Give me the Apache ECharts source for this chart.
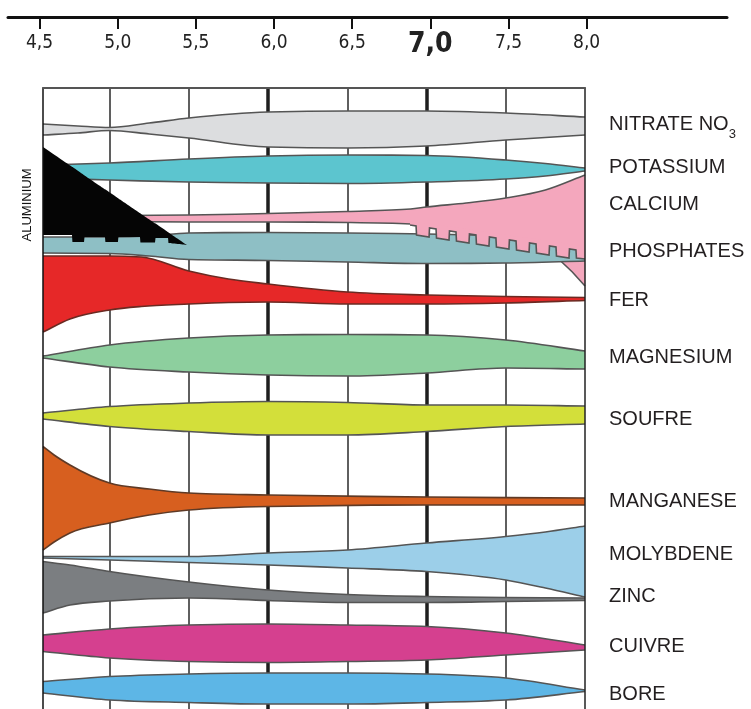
<!DOCTYPE html>
<html><head><meta charset="utf-8">
<script src="https://cdn.jsdelivr.net/npm/echarts@6/dist/echarts.min.js"></script>
<style>html,body{margin:0;padding:0;background:#fff}#c{width:751px;height:709px}</style>
</head><body><div id="c"></div>
<script>
// ---- pH scale ----
const PH_TICKS = [4.5, 5.0, 5.5, 6.0, 6.5, 7.0, 7.5, 8.0];
const PH_LABELS = ['4,5', '5,0', '5,5', '6,0', '6,5', '7,0', '7,5', '8,0'];
const PH_NEUTRAL = 7.0;
const GRID_THIN = [5.0, 5.5, 6.5, 7.5];
const GRID_BOLD = [6.0, 7.0];

// ---- nutrient names and their row position on the availability scale (0 = top) ----
const NUTRIENTS = ['NITRATE NO3', 'POTASSIUM', 'CALCIUM', 'PHOSPHATES', 'FER', 'MAGNESIUM',
  'SOUFRE', 'MANGANESE', 'MOLYBDENE', 'ZINC', 'CUIVRE', 'BORE'];
const NUTRIENT_POS = [36, 79.5, 116.5, 163.7, 212, 269.5, 331, 413, 466, 508, 558, 606];
const ALUMINIUM_NAME = 'ALUMINIUM';
const ALUMINIUM_POS = [117];

// ---- bands: [pH, upper edge, lower edge] ----
const NITRATE = [[4.58,36,47],[4.8,38,45],[5.0,39.5,42.5],[5.25,35,46],[5.5,30,50],[6.0,24,59],[6.5,23,60],[7.0,23,58],[7.5,25,52],[8.0,29,47]];
const POTASSIUM = [[4.58,77,90],[5.0,75,92],[5.5,71,94],[6.0,68,95],[6.5,67,95.5],[7.0,67.5,94],[7.5,72,91],[7.75,75.5,88],[8.0,80,83]];
const CALCIUM = [[4.58,128,133],[5.5,127,134],[6.0,125.5,134],[6.5,123.5,134.5],[6.9,121,136],[7.0,119,139],[7.25,115,145],[7.5,110,151],[7.75,102,157],[8.0,87,162]];
const CALCIUM_TEETH = [[6.896,133,137],[6.934,134,138],[6.937,134,147],[7.016,136,149],[7.019,136,140],[7.060,137,141],[7.063,137,150],[7.142,138.5,152],[7.145,138.5,143],[7.186,139.5,144],[7.189,139.5,153],[7.268,141.5,155],[7.271,141.5,146],[7.312,142.5,147],[7.315,142.5,156],[7.394,144.5,158],[7.397,144.5,149],[7.438,145.5,150],[7.441,145.5,159],[7.520,147.5,161],[7.523,147.5,152],[7.565,148.5,153],[7.568,148.5,162],[7.647,150,164],[7.650,150,155],[7.691,151,156],[7.694,151,165],[7.773,153,167],[7.776,153,158],[7.817,154,159],[7.820,154,168],[7.899,156,170],[7.902,156,161],[7.943,157,162],[7.946,157,170],[8.0,158,171]];
const CALCIUM_LOW = [[7.84,170,172],[7.92,170,184],[8.0,170,198]];
const PHOSPHATES = [[4.58,149,165],[5.0,149,165.5],[5.25,148,168],[5.5,145,171.5],[6.0,144.5,172.5],[6.5,145,174],[7.0,146,175.5],[7.5,148,175],[8.0,152,173]];
const ALUMINIUM = [[4.58,59,147],[4.763,78.7,147],[4.766,79,154],[4.839,87,154],[4.842,87.4,149],[4.971,101.2,149],[4.974,101.5,154],[5.053,110,154],[5.056,110.4,149],[5.192,125,149],[5.195,125.4,154.5],[5.287,135.3,154.5],[5.290,135.6,150],[5.369,144.1,150],[5.372,144.4,155],[5.489,157,157]];
const FER = [[4.58,168,244],[4.75,168,231],[5.0,168,222],[5.2,169,218.5],[5.5,183,216],[5.75,191,214.5],[6.0,196,214],[6.5,204,216],[7.0,207,216],[7.5,208.5,215],[8.0,209.5,212.5]];
const MAGNESIUM = [[4.58,268,270],[5.0,257,279],[5.5,250,284],[6.0,247,287],[6.5,246.5,288],[7.0,247,285],[7.5,252,280],[8.0,263,281]];
const SOUFRE = [[4.58,325,331],[5.0,318.5,338.5],[5.5,315,343.5],[6.0,313.5,347],[6.5,314.5,347],[7.0,317,343.5],[7.5,317,338.5],[8.0,318,336]];
const MANGANESE = [[4.58,358.5,462],[4.65,367,454],[4.75,377,445],[5.0,395,435],[5.25,401,427],[5.5,405,422],[6.0,407,418.5],[7.0,409,417],[8.0,410,417]];
const MOLYBDENE = [[4.58,468.5,470],[5.0,468.5,472],[5.5,468.5,474.5],[6.0,465,477],[6.5,462,480],[7.0,455,483.5],[7.5,448.5,492],[7.75,444,500],[8.0,438,509]];
const ZINC = [[4.58,473.5,525],[4.75,477,517],[5.0,483.5,513],[5.5,494,510],[6.0,502,512.5],[6.5,506.5,514.5],[7.0,508.5,514.5],[7.5,509.5,513.5],[8.0,510,512.5]];
const CUIVRE = [[4.58,547,563.5],[5.0,541,570],[5.5,537,573.5],[6.0,536,574.5],[6.5,537,573.5],[7.0,538.5,572],[7.5,545,567],[8.0,557,562]];
const BORE = [[4.58,593.5,605],[5.0,588.5,612],[5.5,586,614.5],[6.0,585,616],[6.5,585,616],[7.0,586,614.5],[7.5,590,612],[8.0,602,603.5]];

// ---- drawing helpers ----
function monoSegs(p) {
  const n = p.length, h = [], s = [], m = [];
  for (let i = 0; i < n - 1; i++) { h[i] = p[i + 1][0] - p[i][0]; s[i] = (p[i + 1][1] - p[i][1]) / h[i]; }
  m[0] = s[0]; m[n - 1] = s[n - 2];
  for (let i = 1; i < n - 1; i++) {
    if (s[i - 1] * s[i] <= 0) m[i] = 0;
    else {
      const q = (s[i - 1] * h[i] + s[i] * h[i - 1]) / (h[i - 1] + h[i]);
      m[i] = (Math.sign(s[i - 1]) + Math.sign(s[i])) * Math.min(Math.abs(s[i - 1]), Math.abs(s[i]), 0.5 * Math.abs(q));
    }
  }
  const segs = [];
  for (let i = 0; i < n - 1; i++) {
    const d = h[i] / 3;
    segs.push([p[i], [p[i][0] + d, p[i][1] + m[i] * d], [p[i + 1][0] - d, p[i + 1][1] - m[i + 1] * d], p[i + 1]]);
  }
  return segs;
}
function linSegs(p) {
  const segs = [];
  for (let i = 0; i < p.length - 1; i++) segs.push([p[i], p[i], p[i + 1], p[i + 1]]);
  return segs;
}
function pt(p) { return p[0].toFixed(2) + ',' + p[1].toFixed(2); }
function fwd(segs) { let d = ''; segs.forEach(s => { d += 'C' + pt(s[1]) + ' ' + pt(s[2]) + ' ' + pt(s[3]); }); return d; }
function rev(segs) { let d = ''; for (let i = segs.length - 1; i >= 0; i--) { const s = segs[i]; d += 'C' + pt(s[2]) + ' ' + pt(s[1]) + ' ' + pt(s[0]); } return d; }

function band(name, rows, fill, opt) {
  opt = opt || {};
  const stroke = opt.stroke || '#555555';
  return {
    type: 'custom', name: name, data: rows, encode: { x: 0, y: [1, 2] },
    xAxisIndex: 0, yAxisIndex: 0, silent: true, animation: false,
    renderItem: function (params, api) {
      if (params.dataIndex !== 0) return null;
      const top = rows.map(r => api.coord([r[0], r[1]]));
      const bot = rows.map(r => api.coord([r[0], r[2]]));
      const mk = opt.linear ? linSegs : monoSegs;
      const sT = mk(top), sB = mk(bot);
      const children = [{
        type: 'path',
        shape: { pathData: 'M' + pt(top[0]) + fwd(sT) + 'L' + pt(bot[bot.length - 1]) + rev(sB) + 'Z' },
        style: { fill: fill, stroke: null }
      }];
      if (opt.noTop !== true && opt.noStroke !== true) children.push({ type: 'path', shape: { pathData: 'M' + pt(top[0]) + fwd(sT) }, style: { fill: null, stroke: stroke, lineWidth: 1.6 } });
      if (opt.noStroke !== true) children.push({ type: 'path', shape: { pathData: 'M' + pt(bot[0]) + fwd(sB) }, style: { fill: null, stroke: stroke, lineWidth: 1.6 } });
      return { type: 'group', children: children };
    }
  };
}

const FONT = "'Liberation Sans', Arial, sans-serif";
const NARROW = "'Liberation Sans Narrow', 'Arial Narrow', 'DejaVu Sans Condensed', sans-serif";
function nearest(arr, v) { let i = 0, b = Infinity; arr.forEach((p, k) => { const d = Math.abs(p - v); if (d < b) { b = d; i = k; } }); return i; }

const chart = echarts.init(document.getElementById('c'), null, { renderer: 'canvas' });
chart.setOption({
  animation: false,
  backgroundColor: '#ffffff',
  textStyle: { fontFamily: FONT },
  grid: [
    { left: 43, right: 166, top: 88, bottom: 0 },
    { left: 8, right: 24, top: 16, height: 1 }
  ],
  xAxis: [
    { gridIndex: 0, type: 'value', position: 'top', min: 4.58, max: 8.0, z: 10,
      axisLine: { show: true, lineStyle: { color: '#555555', width: 2 } },
      axisTick: { show: false }, axisLabel: { show: false }, splitLine: { show: false } },
    { gridIndex: 0, type: 'value', position: 'bottom', min: 4.58, max: 8.0, z: 0,
      axisLine: { show: false }, axisTick: { show: false, customValues: GRID_THIN }, axisLabel: { show: false },
      splitLine: { show: true, lineStyle: { color: '#5f5f5f', width: 2 } } },
    { gridIndex: 0, type: 'value', position: 'bottom', min: 4.58, max: 8.0, z: 0,
      axisLine: { show: false }, axisTick: { show: false, customValues: GRID_BOLD }, axisLabel: { show: false },
      splitLine: { show: true, lineStyle: { color: '#1e1e1e', width: 3.5 } } },
    { gridIndex: 1, type: 'value', position: 'bottom', min: 4.298, max: 8.898,
      axisLine: { show: true, lineStyle: { color: '#111111', width: 3 } },
      axisTick: { show: true, customValues: PH_TICKS, length: 12, lineStyle: { color: '#111111', width: 2 } },
      splitLine: { show: false },
      axisLabel: {
        show: true, customValues: PH_TICKS, margin: 17, color: '#222222',
        formatter: function (v) {
          const i = nearest(PH_TICKS, v);
          return (PH_TICKS[i] === PH_NEUTRAL ? '{b|' : '{n|') + PH_LABELS[i] + '}';
        },
        rich: {
          n: { fontFamily: NARROW, fontSize: 19, lineHeight: 19, color: '#222222' },
          b: { fontFamily: NARROW, fontSize: 28, lineHeight: 22, fontWeight: 'bold', color: '#222222' }
        }
      } }
  ],
  yAxis: [
    { gridIndex: 0, type: 'value', inverse: true, min: 0, max: 621, position: 'left', z: 10,
      axisLine: { show: true, lineStyle: { color: '#111111', width: 1.5 } },
      axisTick: { show: false }, splitLine: { show: false },
      axisLabel: { show: true, customValues: ALUMINIUM_POS, formatter: function () { return ALUMINIUM_NAME; },
        rotate: 90, margin: 9, fontSize: 13, color: '#111111', fontFamily: FONT } },
    { gridIndex: 0, type: 'value', inverse: true, min: 0, max: 621, position: 'right', z: 10,
      axisLine: { show: true, lineStyle: { color: '#222222', width: 1.5 } },
      axisTick: { show: false }, splitLine: { show: false },
      axisLabel: {
        show: true, customValues: NUTRIENT_POS, margin: 24,
        formatter: function (v) {
          const name = NUTRIENTS[nearest(NUTRIENT_POS, v)];
          const m = name.match(/^(.*NO)(\d)$/);
          return m ? '{n|' + m[1] + '}{s|' + m[2] + '}' : '{n|' + name + '}';
        },
        rich: {
          n: { fontFamily: FONT, fontSize: 20, lineHeight: 20, color: '#231f20' },
          s: { fontFamily: FONT, fontSize: 13, lineHeight: 13, padding: [20, 0, 0, 0], color: '#231f20' }
        }
      } },
    { gridIndex: 1, type: 'value', min: 0, max: 1, show: false }
  ],
  series: [
    band('NITRATE NO3', NITRATE, '#dcdddf'),
    band('POTASSIUM', POTASSIUM, '#5cc5cf'),
    band('CALCIUM', CALCIUM_LOW, '#f4a7bd', { linear: true, noTop: true }),
    band('PHOSPHATES', PHOSPHATES, '#8ebfc5'),
    band('CALCIUM', CALCIUM, '#f4a7bd'),
    band('CALCIUM', CALCIUM_TEETH, '#f4a7bd', { linear: true, noTop: true }),
    band('ALUMINIUM', ALUMINIUM, '#050505', { linear: true, noStroke: true }),
    band('FER', FER, '#e62828', { stroke: '#6a2a22' }),
    band('MAGNESIUM', MAGNESIUM, '#8dcf9e'),
    band('SOUFRE', SOUFRE, '#d3df3a'),
    band('MANGANESE', MANGANESE, '#d75f1f', { stroke: '#5e3a26' }),
    band('MOLYBDENE', MOLYBDENE, '#9ccfe9'),
    band('ZINC', ZINC, '#7b7e81'),
    band('CUIVRE', CUIVRE, '#d5408f'),
    band('BORE', BORE, '#5db6e6')
  ]
});
</script></body></html>
